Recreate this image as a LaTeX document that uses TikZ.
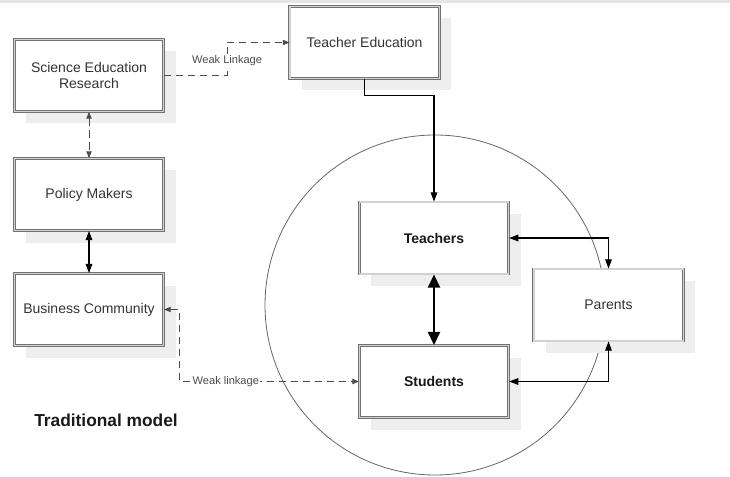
\documentclass[tikz,border=0pt]{standalone}
\usepackage{fontspec}
\setmainfont{Liberation Sans}
\usetikzlibrary{arrows.meta,positioning,shadows}

\begin{document}
\begin{tikzpicture}[
  x=0.75pt, y=-0.75pt,
  every node/.style={font=\fontsize{10.5}{12.5}\selectfont, text=black!80},
  box/.style={draw=black!55, double=gray!35, double distance=1pt,
    line width=0.6pt, fill=white, minimum width=112pt, minimum height=54pt,
    align=center, drop shadow={shadow xshift=9pt, shadow yshift=-9pt,
      fill=gray!13, opacity=1}},
  key/.style={font=\bfseries\fontsize{10.5}{12.5}\selectfont, text=black!90},
  lbl/.style={fill=white, inner sep=1pt, text=black!70,
    font=\fontsize{8.3}{9}\selectfont},
  arr/.style={-{Triangle[length=7pt, width=5pt]}, line width=0.9pt},
  both/.style={{Triangle[length=7pt, width=5pt]}-{Triangle[length=7pt, width=5pt]},
    line width=0.9pt},
  strong/.style={{Triangle[length=10pt, width=9pt]}-{Triangle[length=10pt, width=9pt]},
    line width=2pt},
  weak/.style={dash pattern=on 5.5pt off 3.5pt, draw=black!70, line width=0.7pt},
  weakarr/.style={weak, -{Triangle[length=5pt, width=4pt]}},
  weakboth/.style={weak, {Triangle[length=5pt, width=4pt]}-{Triangle[length=5pt, width=4pt]}}
]
  \useasboundingbox (0,0) rectangle (730,477);
  \fill[gray!20] (0,0) rectangle (730,3);

  % the school circle
  \draw[gray!80!black, line width=0.6pt] (435,305) circle[radius=127.5pt];

  \node[box] (ser) at (89,75.5) {Science Education\\Research};
  \node[box] (pm) at (89,194.5) {Policy Makers};
  \node[box] (bc) at (89,309.5) {Business Community};
  \node[box] (te) at (364.5,42.5) {Teacher Education};
  \node[box, key] (tch) at (434,238) {Teachers};
  \node[box, key] (stu) at (434,381.5) {Students};
  \node[box] (par) at (608.5,305) {Parents};
  \node[font=\bfseries\fontsize{13}{15}\selectfont, text=black!90] (title) at (106,420) {Traditional model};

  \draw[weakarr] (ser.east) -- ++(63,0) |- (te.west)
    node[lbl, pos=0.22] {Weak Linkage};
  \draw[weakboth] (ser) -- (pm);
  \draw[both] (pm) -- (bc);
  \draw[weakboth] (bc.east) -- ++(15,0) |- (stu.west)
    node[lbl, pos=0.63] {Weak linkage};
  \draw[arr] (te.south) -- ++(0,17) -| (tch.north);
  \draw[strong] (tch) -- (stu);
  \draw[both] (tch.east) -| (par.north);
  \draw[both] (stu.east) -| (par.south);
\end{tikzpicture}
\end{document}
